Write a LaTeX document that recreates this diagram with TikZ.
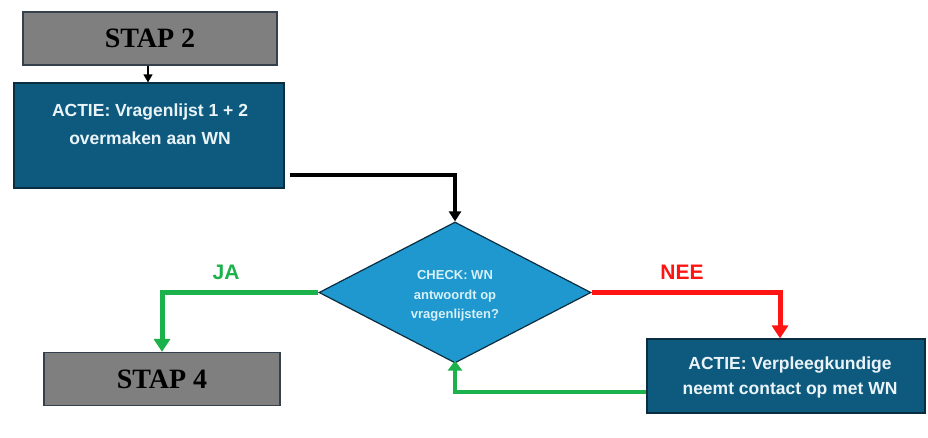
\documentclass[tikz,border=0pt]{standalone}
\usepackage{fontspec}
\setmainfont{Liberation Serif}
\newfontfamily\boxsans{Liberation Sans}
\usetikzlibrary{shapes.geometric,arrows.meta}
\definecolor{stapgray}{HTML}{7F7F7F}
\definecolor{stapedge}{HTML}{34404C}
\definecolor{actfill}{HTML}{0D5A7E}
\definecolor{actedge}{HTML}{0A2E40}
\definecolor{diafill}{HTML}{1E98CE}
\definecolor{diatext}{HTML}{D8F0FA}
\definecolor{acttext}{HTML}{EAF4F8}
\definecolor{jagreen}{HTML}{1CB24B}
\definecolor{neered}{HTML}{FF1414}
\tikzset{
  stapbox/.style={draw=stapedge, line width=1.2pt, fill=stapgray, minimum width=#1, minimum height=53pt, inner sep=0pt, font=\fontsize{28}{30}\selectfont\bfseries},
  actbox/.style={draw=actedge, line width=1.2pt, fill=actfill, inner sep=0pt},
  acttxt/.style={text=acttext, align=center, inner sep=0pt, font=\boxsans\fontsize{17.5}{#1}\selectfont\bfseries},
  checkbox/.style={diamond, draw=actedge, line width=1.2pt, fill=diafill, inner sep=0pt},
  checktxt/.style={text=diatext, align=center, inner sep=0pt, font=\boxsans\fontsize{13}{19.5}\selectfont\bfseries},
  lbl/.style={font=\boxsans\fontsize{21}{22}\selectfont\bfseries},
}
\begin{document}
\begin{tikzpicture}[x=1pt,y=-1pt]
\useasboundingbox (0,0) rectangle (928,437);
\fill[white] (0,0) rectangle (928,437);
\node[stapbox=254pt] (s2) at (150,38.5) {STAP 2};
\node[actbox, minimum width=270pt, minimum height=105pt] (a1) at (149,135.5) {};
\node[acttxt=28] (t1) at (150,124) {ACTIE: Vragenlijst 1 + 2\\overmaken aan WN};
\node[checkbox, minimum width=272pt, minimum height=141pt, aspect=1.93] (chk) at (455,292.5) {};
\node[checktxt] (t3) at (455,296) {CHECK: WN\\antwoordt op\\vragenlijsten?};
\node[stapbox=236pt] (s4) at (162,379) {STAP 4};
\node[actbox, minimum width=278pt, minimum height=74pt] (a2) at (786,376) {};
\node[acttxt=25] (t2) at (790,377) {ACTIE: Verpleegkundige\\neemt contact op met WN};
\coordinate (c0) at (290,175);
\coordinate (c1) at (455,175);
\coordinate (cja) at (162,292.5);
\coordinate (cnee) at (780,292.5);
\coordinate (cret) at (455,392);
\draw[line width=1.3pt, -{Triangle[length=8pt,width=9pt]}] (s2.south -| 148,0) -- (a1.north -| 148,0);
\draw[line width=4pt, -{Triangle[length=10pt,width=12pt]}] (c0) -- (c1) -- (chk.north);
\draw[line width=5pt, jagreen, -{Triangle[length=13pt,width=16pt]}] (chk.west) -- (cja) -- (s4.north -| cja);
\draw[line width=5pt, neered, -{Triangle[length=13pt,width=16pt]}] (chk.east) -- (cnee) -- (a2.north -| cnee);
\draw[line width=4pt, jagreen, -{Triangle[length=10pt,width=14pt]}] (a2.west |- cret) -- (cret) -- ([yshift=3pt]chk.south);
\node[lbl, text=jagreen] (ja) at (226,272) {JA};
\node[lbl, text=neered] (nee) at (682,272) {NEE};
\end{tikzpicture}
\end{document}
